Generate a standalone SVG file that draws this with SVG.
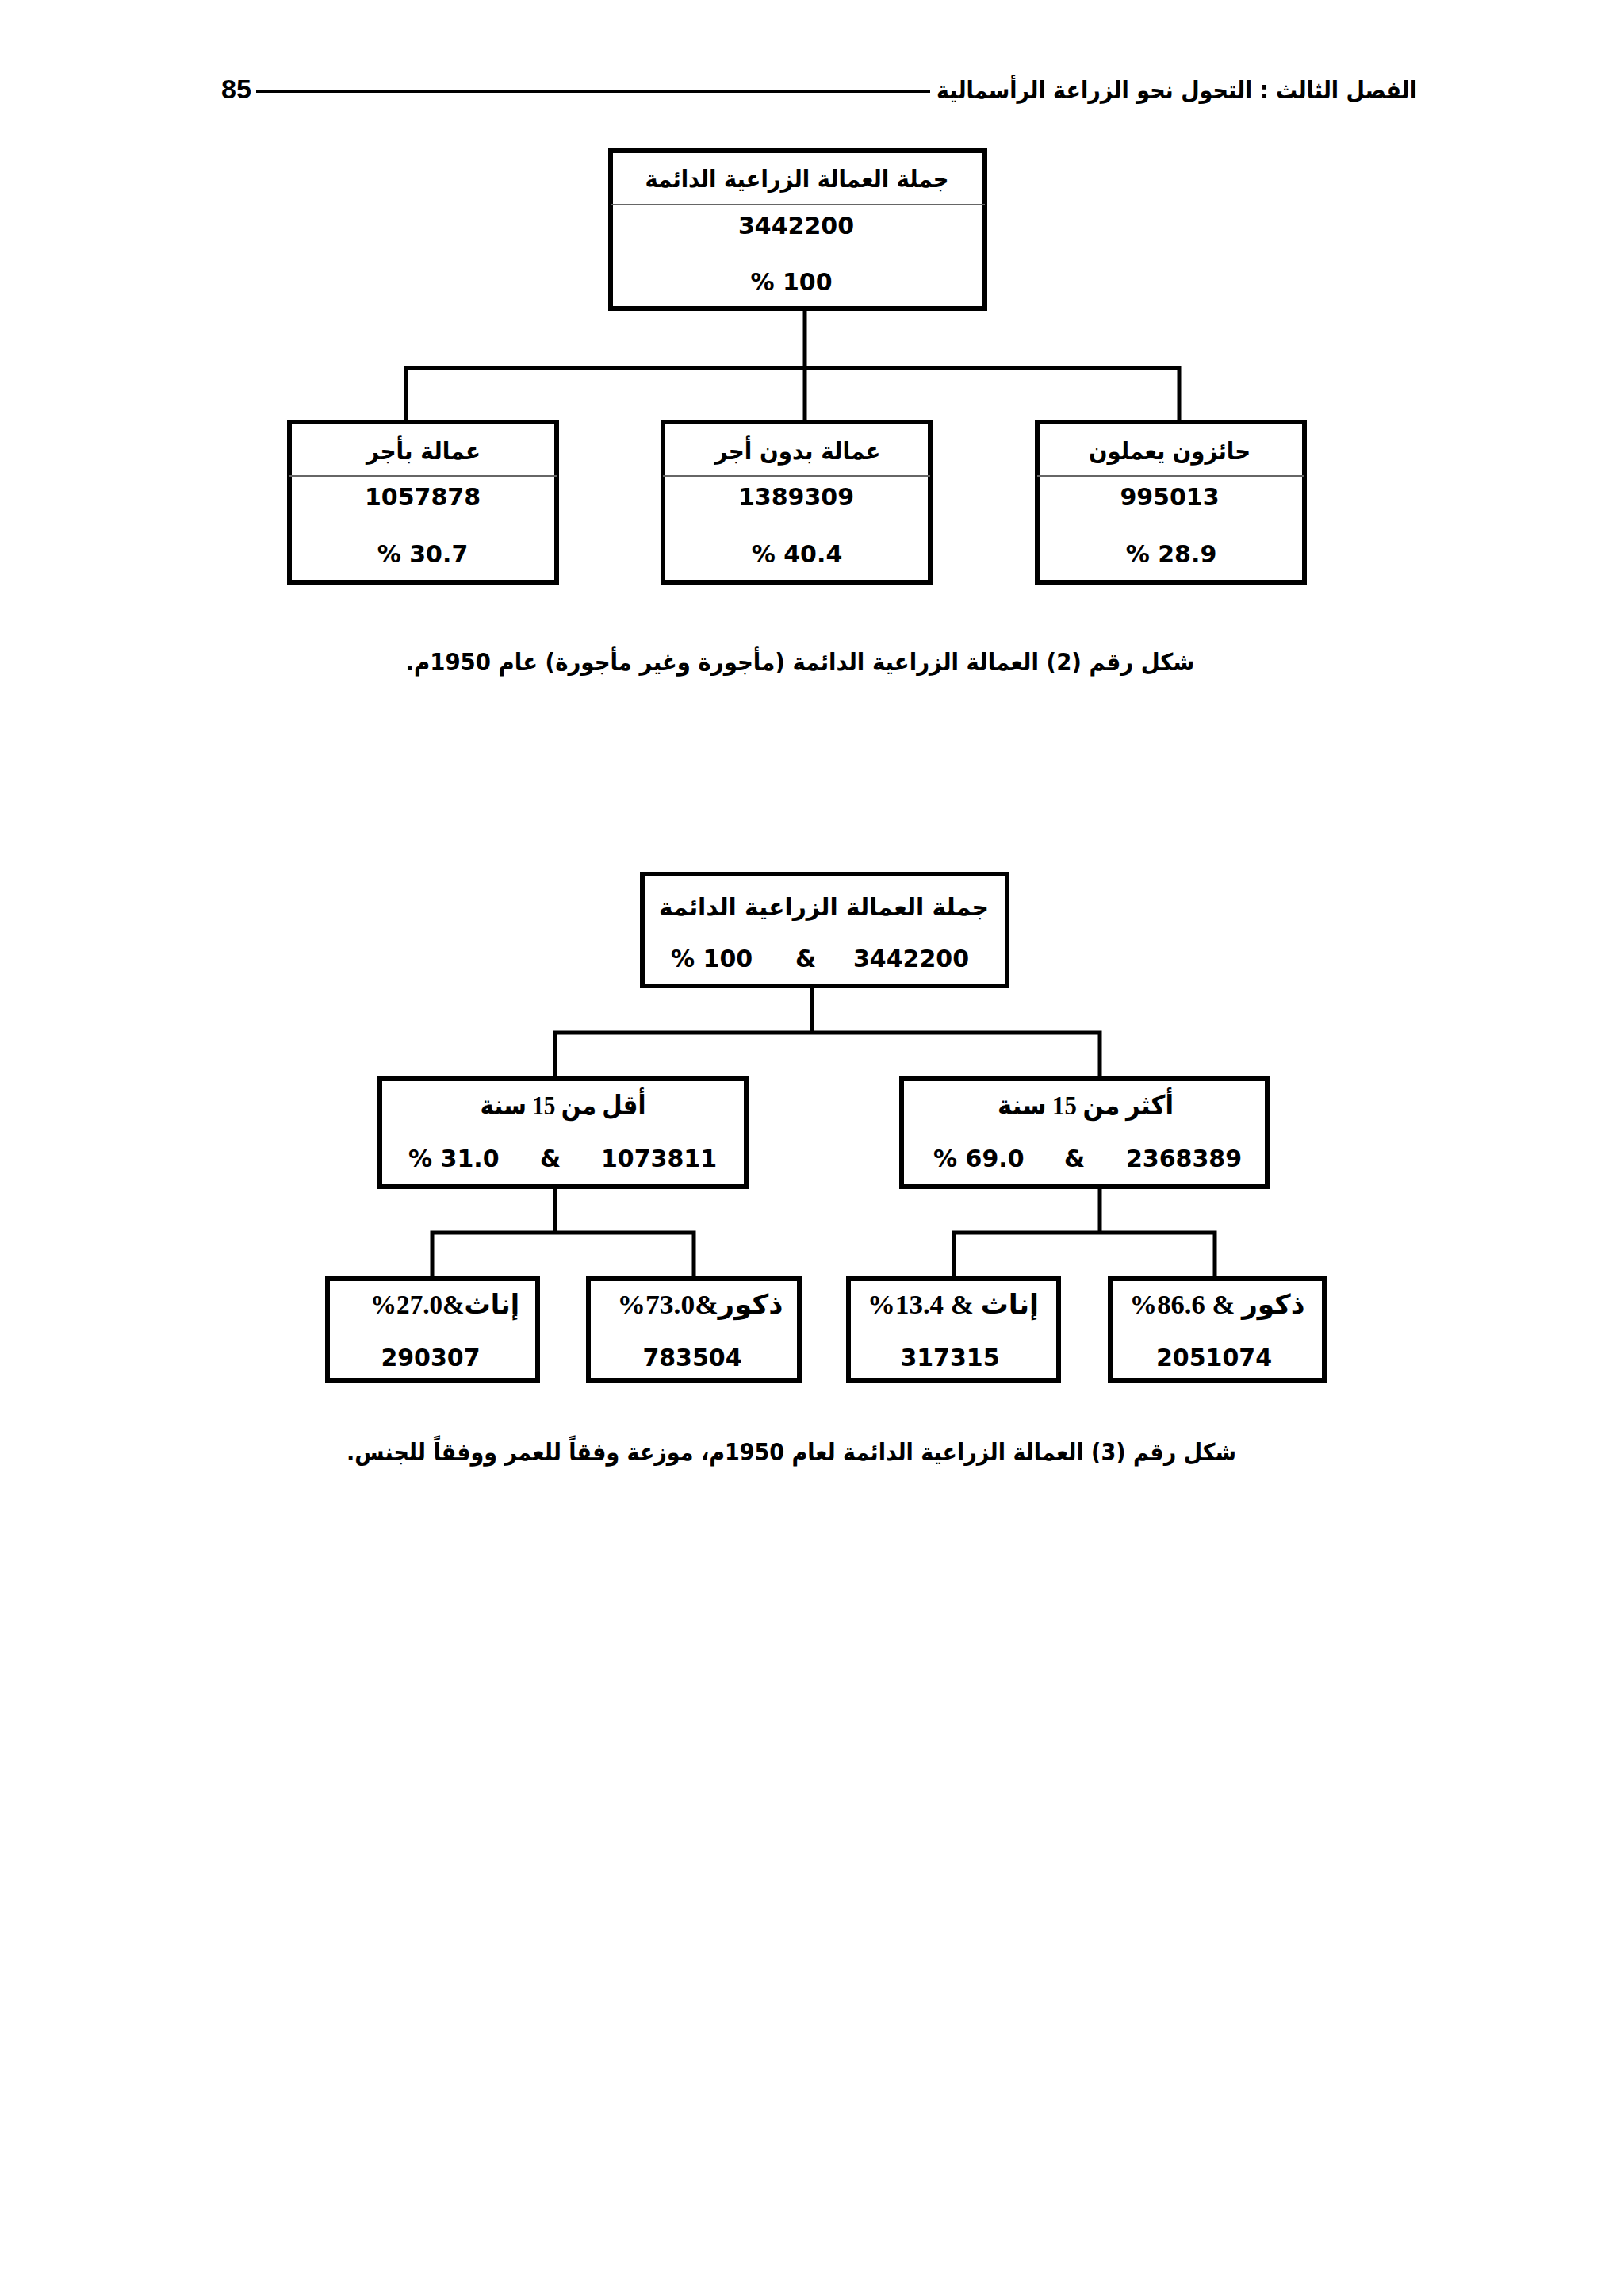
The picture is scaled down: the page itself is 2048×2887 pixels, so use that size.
<svg xmlns="http://www.w3.org/2000/svg" width="2048" height="2887" viewBox="0 0 2048 2887">
<style>
.bg{fill:#fff}
.box{fill:#fff;stroke:#000;stroke-width:6}
.dv{stroke:#666;stroke-width:2}
.conn{fill:none;stroke:#000;stroke-width:5}
.ar{font-family:"DejaVu Sans",sans-serif;font-weight:bold;font-size:30px;fill:#000}
.num{font-family:"DejaVu Sans",sans-serif;font-weight:bold;font-size:30px;fill:#000}
.ser{font-family:"Liberation Serif","DejaVu Sans",serif;font-weight:bold;font-size:34px;fill:#000}
.hd{font-family:"Liberation Sans","DejaVu Sans",sans-serif;font-weight:bold;font-size:34px;fill:#000}
</style>
<rect class="bg" x="0" y="0" width="2048" height="2887"/>
<g id="header">
<text class="hd" x="298" y="124" text-anchor="middle">85</text>
<line x1="323" y1="115" x2="1173" y2="115" stroke="#000" stroke-width="4"/>
<text class="ar" x="1484" y="124" text-anchor="middle" direction="rtl" textLength="606" lengthAdjust="spacingAndGlyphs">الفصل الثالث : التحول نحو الزراعة الرأسمالية</text>
</g>
<g id="connectors">
<path class="conn" d="M1015 389 V464"/>
<path class="conn" d="M512 532 V464 H1487 V532"/>
<path class="conn" d="M1015 464 V532"/>
<path class="conn" d="M1024 1243 V1302"/>
<path class="conn" d="M700 1360 V1302 H1387 V1360"/>
<path class="conn" d="M700 1496 V1554"/>
<path class="conn" d="M1387 1496 V1554"/>
<path class="conn" d="M545 1612 V1554 H875 V1612"/>
<path class="conn" d="M1203 1612 V1554 H1532 V1612"/>
</g>
<g id="f2-total">
<rect class="box" x="770" y="190" width="472" height="199"/>
<line class="dv" x1="770" y1="258" x2="1242" y2="258"/>
<text class="ar" x="1005" y="236" text-anchor="middle" textLength="383" lengthAdjust="spacingAndGlyphs">جملة العمالة الزراعية الدائمة</text>
<text class="num" x="1004" y="295" text-anchor="middle">3442200</text>
<text class="num" x="998" y="366" text-anchor="middle">% 100</text>
</g>
<g id="f2-paid">
<rect class="box" x="365" y="532" width="337" height="202"/>
<line class="dv" x1="365" y1="600" x2="702" y2="600"/>
<text class="ar" x="534" y="579" text-anchor="middle" textLength="144" lengthAdjust="spacingAndGlyphs">عمالة بأجر</text>
<text class="num" x="533" y="637" text-anchor="middle">1057878</text>
<text class="num" x="533" y="709" text-anchor="middle">% 30.7</text>
</g>
<g id="f2-unpaid">
<rect class="box" x="836" y="532" width="337" height="202"/>
<line class="dv" x1="836" y1="600" x2="1173" y2="600"/>
<text class="ar" x="1006" y="579" text-anchor="middle" textLength="209" lengthAdjust="spacingAndGlyphs">عمالة بدون أجر</text>
<text class="num" x="1004" y="637" text-anchor="middle">1389309</text>
<text class="num" x="1005" y="709" text-anchor="middle">% 40.4</text>
</g>
<g id="f2-holders">
<rect class="box" x="1308" y="532" width="337" height="202"/>
<line class="dv" x1="1308" y1="600" x2="1645" y2="600"/>
<text class="ar" x="1475" y="579" text-anchor="middle" textLength="204" lengthAdjust="spacingAndGlyphs">حائزون يعملون</text>
<text class="num" x="1475" y="637" text-anchor="middle">995013</text>
<text class="num" x="1477" y="709" text-anchor="middle">% 28.9</text>
</g>
<text id="caption2" class="ar" x="1009" y="845" text-anchor="middle" direction="rtl" textLength="995" lengthAdjust="spacingAndGlyphs">شكل رقم (2) العمالة الزراعية الدائمة (مأجورة وغير مأجورة) عام 1950م.</text>
<g id="f3-total">
<rect class="box" x="810" y="1102" width="460" height="141"/>
<text class="ar" x="1039" y="1154" text-anchor="middle" textLength="416" lengthAdjust="spacingAndGlyphs">جملة العمالة الزراعية الدائمة</text>
<text class="num" y="1219"><tspan x="846">% 100</tspan><tspan x="1003">&amp;</tspan><tspan x="1076">3442200</tspan></text>
</g>
<g id="f3-under15">
<rect class="box" x="479" y="1360" width="462" height="136"/>
<text class="ser" x="710" y="1405" text-anchor="middle" textLength="209" lengthAdjust="spacingAndGlyphs">أقل من 15 سنة</text>
<text class="num" y="1471"><tspan x="515">% 31.0</tspan><tspan x="681">&amp;</tspan><tspan x="758">1073811</tspan></text>
</g>
<g id="f3-over15">
<rect class="box" x="1137" y="1360" width="461" height="136"/>
<text class="ser" x="1369" y="1405" text-anchor="middle" textLength="222" lengthAdjust="spacingAndGlyphs">أكثر من 15 سنة</text>
<text class="num" y="1471"><tspan x="1177">% 69.0</tspan><tspan x="1342">&amp;</tspan><tspan x="1420">2368389</tspan></text>
</g>
<g id="f3-under15-female">
<rect class="box" x="413" y="1612" width="265" height="128"/>
<text class="ser" x="561" y="1656" text-anchor="middle" textLength="188" lengthAdjust="spacingAndGlyphs">%27.0&amp;إناث</text>
<text class="num" x="543" y="1722" text-anchor="middle">290307</text>
</g>
<g id="f3-under15-male">
<rect class="box" x="742" y="1612" width="266" height="128"/>
<text class="ser" x="883" y="1656" text-anchor="middle" textLength="209" lengthAdjust="spacingAndGlyphs">%73.0&amp;ذكور</text>
<text class="num" x="873" y="1722" text-anchor="middle">783504</text>
</g>
<g id="f3-over15-female">
<rect class="box" x="1070" y="1612" width="265" height="128"/>
<text class="ser" x="1202" y="1656" text-anchor="middle" textLength="216" lengthAdjust="spacingAndGlyphs">%13.4 &amp; إناث</text>
<text class="num" x="1198" y="1722" text-anchor="middle">317315</text>
</g>
<g id="f3-over15-male">
<rect class="box" x="1400" y="1612" width="270" height="128"/>
<text class="ser" x="1535" y="1656" text-anchor="middle" textLength="221" lengthAdjust="spacingAndGlyphs">%86.6 &amp; ذكور</text>
<text class="num" x="1531" y="1722" text-anchor="middle">2051074</text>
</g>
<text id="caption3" class="ar" x="998" y="1841" text-anchor="middle" direction="rtl" textLength="1122" lengthAdjust="spacingAndGlyphs">شكل رقم (3) العمالة الزراعية الدائمة لعام 1950م، موزعة وفقاً للعمر ووفقاً للجنس.</text>
</svg>
